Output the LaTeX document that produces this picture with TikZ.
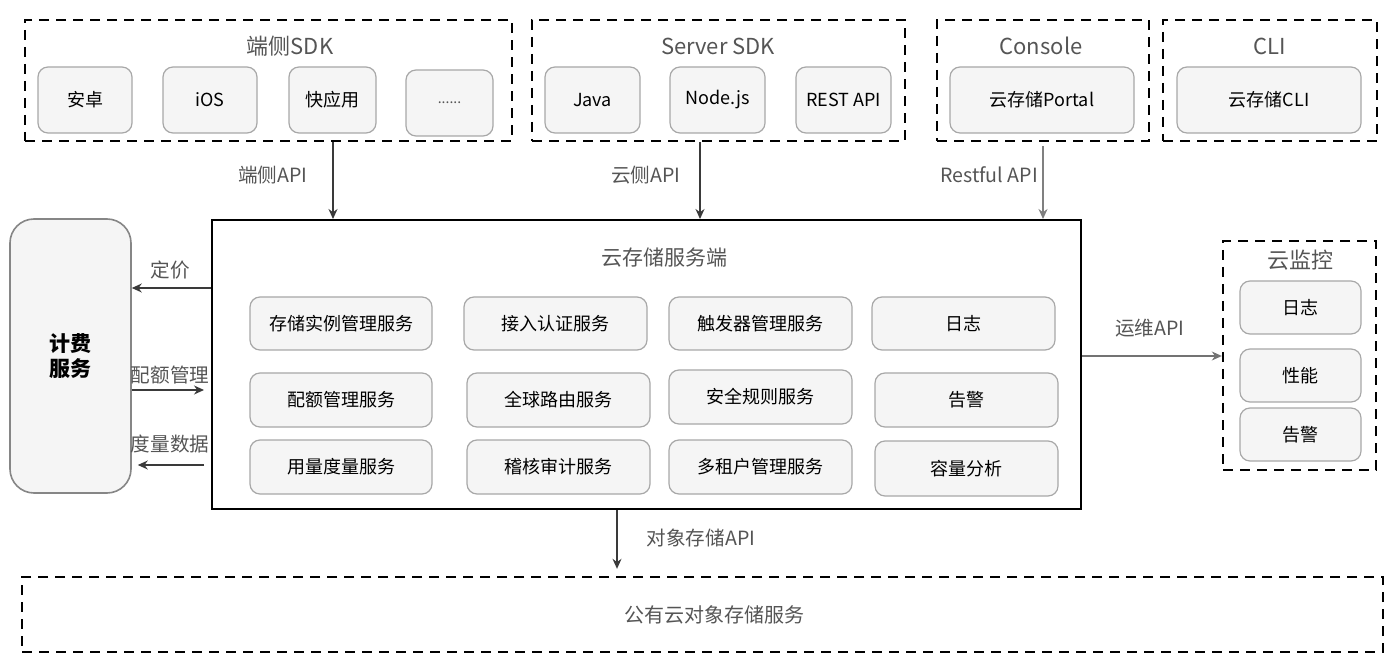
\documentclass[tikz,border=0pt]{standalone}
\usepackage{fontspec}
\setmainfont{Noto Sans CJK SC}
\usetikzlibrary{arrows.meta,calc}
\definecolor{boxfill}{HTML}{F5F5F5}
\definecolor{boxline}{HTML}{A8A8A8}
\definecolor{titlegray}{HTML}{555555}
\definecolor{arrgray}{HTML}{3A3A3A}
\newcommand\ibx[6]{\node[ibox, minimum width={(#4-#2)*0.5pt}, minimum height={(#5-#3)*0.5pt}] (#1) at ({(#2+#4)/2},{(#3+#5)/2}) {#6};}
\newcommand\dbx[5]{\node[dbox, minimum width={(#4-#2)*0.5pt}, minimum height={(#5-#3)*0.5pt}] (#1) at ({(#2+#4)/2},{(#3+#5)/2}) {};}
\begin{document}
\begin{tikzpicture}[x=0.5pt,y=-0.5pt,
  ibox/.style={draw=boxline, fill=boxfill, rounded corners=5pt, line width=0.6pt, inner sep=0pt, font=\fontsize{9}{11}\selectfont, text=black},
  dbox/.style={draw=black, line width=1.2pt, dash pattern=on 5pt off 3.5pt, inner sep=0pt},
  ttl/.style={font=\fontsize{11}{13}\selectfont, text=titlegray},
  lbl/.style={font=\fontsize{9.8}{11}\selectfont, text=titlegray},
  arr/.style={draw=arrgray, line width=0.6pt, -{Stealth[length=5pt,width=4.5pt]}}
]
\useasboundingbox (0,0) rectangle (1400,667);
% top containers
\dbx{sdk}{25}{20}{512}{141}
\node[ttl] (sdkt) at (290,46) {端侧SDK};
\ibx{android}{38}{67}{132}{133}{安卓}
\ibx{ios}{163}{67}{257}{133}{iOS}
\ibx{quick}{289}{67}{376}{133}{快应用}
\ibx{more}{406}{70}{493}{136}{\textcolor{titlegray}{\fontsize{7}{8}\selectfont ......}}
\dbx{srv}{532}{20}{905}{141}
\node[ttl] (srvt) at (718,46) {Server SDK};
\ibx{java}{545}{67}{640}{133}{Java}
\ibx{node}{670}{67}{765}{133}{Node.js}
\ibx{rest}{796}{67}{891}{133}{REST API}
\dbx{con}{937}{20}{1149}{141}
\node[ttl] (cont) at (1041,46) {Console};
\ibx{portal}{950}{67}{1134}{133}{云存储Portal}
\dbx{cli}{1163}{20}{1377}{141}
\node[ttl] (clit) at (1270,46) {CLI};
\ibx{clib}{1177}{67}{1361}{133}{云存储CLI}
% main box
\node[draw=black, line width=1pt, fill=white, minimum width={869*0.5pt}, minimum height={289*0.5pt}, inner sep=0pt] (main) at (646.5,364.5) {};
\node[lbl, font=\fontsize{10.5}{12}\selectfont] (maint) at (664,258) {云存储服务端};
\ibx{s11}{250}{297}{432}{350}{存储实例管理服务}
\ibx{s12}{464}{297}{647}{350}{接入认证服务}
\ibx{s13}{669}{297}{852}{350}{触发器管理服务}
\ibx{s14}{872}{297}{1055}{350}{日志}
\ibx{s21}{250}{373}{432}{427}{配额管理服务}
\ibx{s22}{467}{373}{650}{427}{全球路由服务}
\ibx{s23}{669}{370}{852}{424}{安全规则服务}
\ibx{s24}{875}{373}{1058}{427}{告警}
\ibx{s31}{250}{440}{432}{494}{用量度量服务}
\ibx{s32}{467}{440}{650}{494}{稽核审计服务}
\ibx{s33}{669}{440}{852}{494}{多租户管理服务}
\ibx{s34}{875}{441}{1058}{496}{容量分析}
% billing
\node[draw=boxline!80!black, fill=boxfill, line width=0.8pt, rounded corners=12pt, minimum width={121*0.5pt}, minimum height={274*0.5pt}, inner sep=0pt, align=center, font=\fontsize{10.5}{12.5}\selectfont\bfseries] (bill) at (70.5,356) {计费\\服务};
% monitor
\dbx{mon}{1223}{241}{1376}{470}
\node[ttl] (mont) at (1300,260) {云监控};
\ibx{m1}{1240}{281}{1361}{334}{日志}
\ibx{m2}{1240}{349}{1361}{402}{性能}
\ibx{m3}{1240}{408}{1361}{461}{告警}
% public storage
\dbx{pub}{22}{577}{1383}{652}
\node[ttl, font=\fontsize{10}{12}\selectfont] (pubt) at (714,615) {公有云对象存储服务};
% coordinates for connector positions
\coordinate (x1) at (333,0);
\coordinate (x2) at (700,0);
\coordinate (x3) at (1043,0);
\coordinate (x4) at (617,0);
\coordinate (y1) at (0,288);
\coordinate (y2) at (0,390);
\coordinate (y3) at (0,465);
\coordinate (y4) at (0,356);
% connectors
\draw[arr] (sdk.south -| x1) -- (main.north -| x1);
\node[lbl] (l1) at (273,175) {端侧API};
\draw[arr] (srv.south -| x2) -- (main.north -| x2);
\node[lbl] (l2) at (646,175) {云侧API};
\draw[arr, draw=gray] ([yshift=-2pt]con.south -| x3) -- (main.north -| x3);
\node[lbl] (l3) at (989,175) {Restful API};
\draw[arr] (main.west |- y1) -- (bill.east |- y1);
\node[lbl] (l4) at (170,270) {定价};
\draw[arr, shorten >=3.5pt] (bill.east |- y2) -- (main.west |- y2);
\node[lbl] (l5) at (170,375) {配额管理};
\draw[arr, shorten <=3.5pt, shorten >=3pt] (main.west |- y3) -- (bill.east |- y3);
\node[lbl] (l6) at (170,444) {度量数据};
\draw[arr, draw=gray!90!black] (main.east |- y4) -- (mon.west |- y4);
\node[lbl] (l7) at (1150,328) {运维API};
\draw[arr, shorten >=3.5pt] (main.south -| x4) -- (pub.north -| x4);
\node[lbl] (l8) at (701,538) {对象存储API};
\end{tikzpicture}
\end{document}
